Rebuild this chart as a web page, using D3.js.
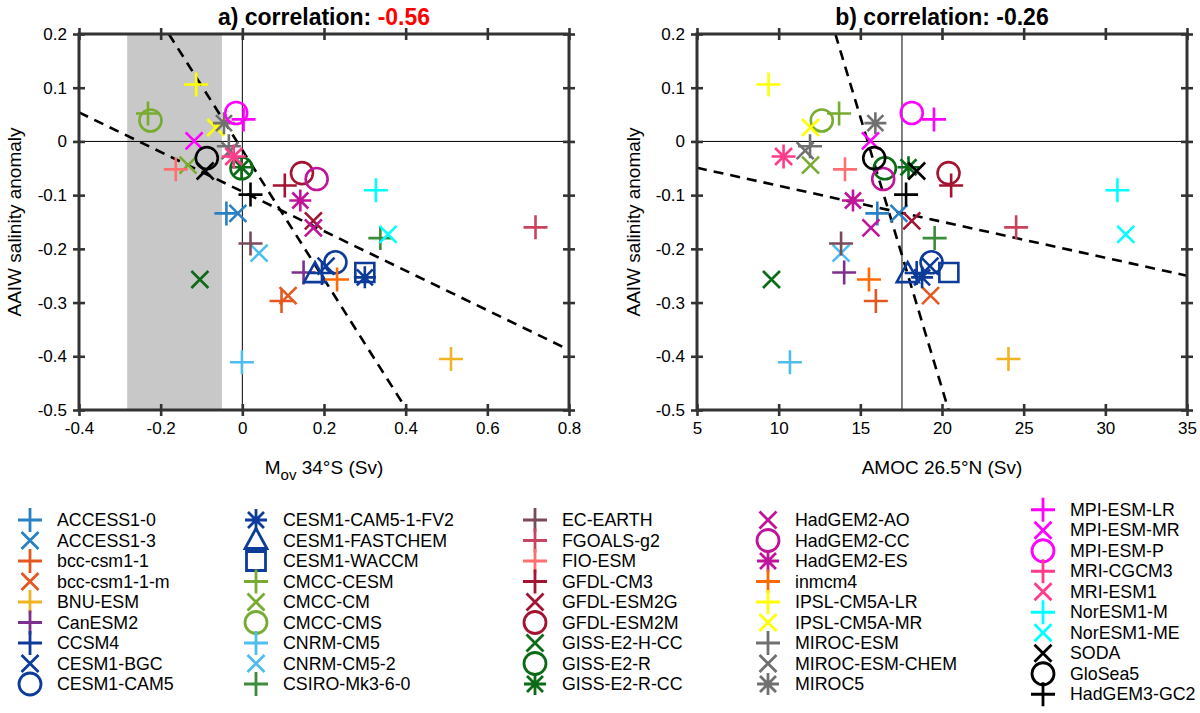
<!DOCTYPE html>
<html>
<head>
<meta charset="utf-8">
<script src="https://cdn.jsdelivr.net/npm/d3@7"></script>
<style>
  body { margin: 0; background: #fff; }
  text { font-family: 'Liberation Sans', Arial, Helvetica, sans-serif; fill: #000; }
</style>
</head>
<body>
<div id="target"></div>
<script>
const width = 1200;
const height = 713;

// model list, legend order
const models = [
  'ACCESS1-0', 'ACCESS1-3', 'bcc-csm1-1', 'bcc-csm1-1-m', 'BNU-ESM', 'CanESM2', 'CCSM4', 'CESM1-BGC', 'CESM1-CAM5',
  'CESM1-CAM5-1-FV2', 'CESM1-FASTCHEM', 'CESM1-WACCM', 'CMCC-CESM', 'CMCC-CM', 'CMCC-CMS', 'CNRM-CM5', 'CNRM-CM5-2', 'CSIRO-Mk3-6-0',
  'EC-EARTH', 'FGOALS-g2', 'FIO-ESM', 'GFDL-CM3', 'GFDL-ESM2G', 'GFDL-ESM2M', 'GISS-E2-H-CC', 'GISS-E2-R', 'GISS-E2-R-CC',
  'HadGEM2-AO', 'HadGEM2-CC', 'HadGEM2-ES', 'inmcm4', 'IPSL-CM5A-LR', 'IPSL-CM5A-MR', 'MIROC-ESM', 'MIROC-ESM-CHEM', 'MIROC5',
  'MPI-ESM-LR', 'MPI-ESM-MR', 'MPI-ESM-P', 'MRI-CGCM3', 'MRI-ESM1', 'NorESM1-M', 'NorESM1-ME', 'SODA', 'GloSea5', 'HadGEM3-GC2',
];

const markers = [
  '+', 'x', '+', 'x', '+', '+', '+', 'x', 'o',
  '*', '^', 's', '+', 'x', 'o', '+', 'x', '+',
  '+', '+', '+', '+', 'x', 'o', 'x', 'o', '*',
  'x', 'o', '*', '+', '+', 'x', '+', 'x', '*',
  '+', 'x', 'o', '+', 'x', '+', 'x', 'x', 'o', '+',
];

const colors = [
  '#2a80c4', '#2a80c4', '#e4581f', '#e4581f', '#f0b323', '#7e2f8e', '#0d3b99', '#0d3b99', '#0d3b99',
  '#0d3b99', '#0d3b99', '#0d3b99', '#77ac30', '#77ac30', '#77ac30', '#4dbeee', '#4dbeee', '#3b8c3b',
  '#7b4a5a', '#c8435e', '#ff6f6f', '#a2142f', '#a2142f', '#a2142f', '#0b6b16', '#0b6b16', '#0b6b16',
  '#c0149b', '#c0149b', '#c0149b', '#ff6a00', '#ffff00', '#ffff00', '#707070', '#707070', '#707070',
  '#ff00ff', '#ff00ff', '#ff00ff', '#ff3c8c', '#ff3c8c', '#00ffff', '#00ffff', '#000000', '#000000', '#000000',
];

// Mov at 34S (Sv)
const movValues = [
  -0.039, -0.011, 0.096, 0.112, 0.511, 0.150, 0.195, 0.205, 0.228,
  0.300, 0.178, 0.300, -0.231, -0.133, -0.225, -0.001, 0.041, 0.338,
  0.020, 0.718, -0.163, 0.104, 0.174, 0.146, -0.104, -0.002, -0.002,
  0.174, 0.182, 0.142, 0.232, -0.113, -0.065, -0.033, -0.030, -0.045,
  0.003, -0.118, -0.015, -0.021, -0.021, 0.327, 0.357, -0.091, -0.087, 0.020,
];

// AMOC at 26.5N (Sv)
const amocValues = [
  16.04, 17.36, 15.95, 19.3, 24.07, 14.01, 18.45, 19.26, 19.36,
  18.78, 17.9, 20.42, 13.7, 11.95, 12.64, 10.69, 13.82, 19.55,
  13.82, 24.54, 14.06, 20.56, 18.15, 20.4, 9.56, 16.5, 17.95,
  15.65, 16.4, 14.55, 15.53, 9.38, 11.95, 11.92, 11.62, 15.92,
  19.51, 15.62, 18.15, 10.3, 10.3, 30.74, 31.25, 18.45, 15.85, 17.8,
];

// AAIW salinity anomaly
const salinity = [
  -0.134, -0.134, -0.297, -0.287, -0.405, -0.244, -0.245, -0.232, -0.225,
  -0.253, -0.247, -0.244, 0.052, -0.044, 0.039, -0.411, -0.208, -0.180,
  -0.190, -0.160, -0.052, -0.082, -0.148, -0.059, -0.257, -0.050, -0.048,
  -0.161, -0.070, -0.110, -0.257, 0.106, 0.026, -0.009, -0.017, 0.034,
  0.041, 0.001, 0.053, -0.028, -0.028, -0.091, -0.173, -0.055, -0.031, -0.099,
];

const xTicksA = [-0.4, -0.2, 0, 0.2, 0.4, 0.6, 0.8];
const xTicksB = [5, 10, 15, 20, 25, 30, 35];
const yTicks = [-0.5, -0.4, -0.3, -0.2, -0.1, 0, 0.1, 0.2];

// observed Mov range (shaded) and observed AMOC
const shadeA = [-0.282, -0.05];
const amocObs = 17.55;

// regression lines [x1, y1, x2, y2]
const fitsA = [[-0.4, 0.054, 0.8, -0.388], [-0.18, 0.2, 0.403, -0.5]];
const fitsB = [[5, -0.049, 35, -0.25], [13.47, 0.2, 20.4, -0.5]];

const svg = d3.select('#target').append('svg').attr('width', width).attr('height', height);

function markerPath(type) {
  const s = 12;
  const k = 8.5;
  const r = 11;
  if (type === '+') return `M${-s},0H${s}M0,${-s}V${s}`;
  if (type === 'x') return `M${-k},${-k}L${k},${k}M${-k},${k}L${k},${-k}`;
  if (type === '*') {
    const a = 11;
    const b = 8;
    return `M${-a},0H${a}M0,${-a}V${a}M${-b},${-b}L${b},${b}M${-b},${b}L${b},${-b}`;
  }
  if (type === 'o') return `M${r},0A${r},${r} 0 1,1 ${-r},0A${r},${r} 0 1,1 ${r},0Z`;
  if (type === '^') return 'M0,-12L11,8H-11Z';
  if (type === 's') return 'M-9.5,-9.5H9.5V9.5H-9.5Z';
  return '';
}

function panel(opts) {
  const w = 490;
  const h = 376;
  const g = svg.append('g').attr('transform', `translate(${opts.left},34)`);

  const x = d3.scaleLinear().domain(opts.xDomain).range([0, w]);
  const y = d3.scaleLinear().domain([-0.5, 0.2]).range([h, 0]);

  g.append('clipPath')
    .attr('id', opts.id + '-clip')
    .append('rect')
    .attr('width', w)
    .attr('height', h);

  const inner = g.append('g').attr('clip-path', `url(#${opts.id}-clip)`);

  if (opts.shade) {
    inner
      .append('rect')
      .attr('x', x(opts.shade[0]))
      .attr('y', 0)
      .attr('width', x(opts.shade[1]) - x(opts.shade[0]))
      .attr('height', h)
      .style('fill', '#c8c8c8');
  }

  inner
    .append('line')
    .attr('x1', 0)
    .attr('x2', w)
    .attr('y1', y(0))
    .attr('y2', y(0))
    .style('stroke', '#000')
    .style('stroke-width', 1);
  inner
    .append('line')
    .attr('x1', x(opts.vline))
    .attr('x2', x(opts.vline))
    .attr('y1', 0)
    .attr('y2', h)
    .style('stroke', '#000')
    .style('stroke-width', 1);

  inner
    .selectAll('.fit')
    .data(opts.fits)
    .enter()
    .append('line')
    .attr('class', 'fit')
    .attr('x1', (d) => x(d[0]))
    .attr('y1', (d) => y(d[1]))
    .attr('x2', (d) => x(d[2]))
    .attr('y2', (d) => y(d[3]))
    .style('stroke', '#000')
    .style('stroke-width', 2.6)
    .style('stroke-dasharray', '10,7');

  inner
    .selectAll('.point')
    .data(d3.range(models.length))
    .enter()
    .append('path')
    .attr('class', 'point')
    .attr('transform', (i) => `translate(${x(opts.xValues[i])},${y(salinity[i])})`)
    .attr('d', (i) => markerPath(markers[i]))
    .style('fill', 'none')
    .style('stroke', (i) => colors[i])
    .style('stroke-width', 2.6);

  // axes: ticks cross the frame on all four sides
  const axes = [
    { a: d3.axisBottom(x).tickValues(opts.xTicks), t: `translate(0,${h})`, labels: true, horiz: true },
    { a: d3.axisTop(x).tickValues(opts.xTicks), t: 'translate(0,0)', labels: false, horiz: true },
    { a: d3.axisLeft(y).tickValues(yTicks), t: 'translate(0,0)', labels: true, horiz: false },
    { a: d3.axisRight(y).tickValues(yTicks), t: `translate(${w},0)`, labels: false, horiz: false },
  ];
  axes.forEach((ax) => {
    const ag = g
      .append('g')
      .attr('transform', ax.t)
      .call(
        ax.a
          .tickSize(0)
          .tickPadding(12)
          .tickFormat((d) => String(+d.toFixed(2)))
      );
    ag.select('.domain').remove();
    ag.selectAll('.tick line')
      .attr(ax.horiz ? 'y1' : 'x1', -6)
      .attr(ax.horiz ? 'y2' : 'x2', 6)
      .style('stroke', '#333')
      .style('stroke-width', 2.6);
    if (!ax.labels) {
      ag.selectAll('.tick text').remove();
    } else {
      ag.selectAll('.tick text').style('font-size', '17px').style('font-family', null);
    }
  });

  g.append('rect')
    .attr('width', w)
    .attr('height', h)
    .style('fill', 'none')
    .style('stroke', '#333')
    .style('stroke-width', 3);

  // title
  const title = g
    .append('text')
    .attr('x', w / 2)
    .attr('y', -9)
    .attr('text-anchor', 'middle')
    .style('font-size', '23px')
    .style('font-weight', 'bold');
  title.append('tspan').text(opts.title);
  title.append('tspan').text(opts.corr).style('fill', opts.corrColor);

  g.append('text')
    .attr('transform', `translate(${opts.ylabelX},${h / 2}) rotate(-90)`)
    .attr('text-anchor', 'middle')
    .style('font-size', '19px')
    .text('AAIW salinity anomaly');

  const xl = g
    .append('text')
    .attr('x', w / 2)
    .attr('y', 440)
    .attr('text-anchor', 'middle')
    .style('font-size', '19px');
  opts.xlabel(xl);
}

panel({
  id: 'pa',
  left: 79,
  xDomain: [-0.4, 0.8],
  xTicks: xTicksA,
  xValues: movValues,
  shade: shadeA,
  vline: 0,
  fits: fitsA,
  title: 'a) correlation: ',
  corr: '-0.56',
  corrColor: '#ff0000',
  ylabelX: -58,
  xlabel: (t) => {
    t.append('tspan').text('M');
    t.append('tspan').text('ov').attr('dy', 6).style('font-size', '15px');
    t.append('tspan').text(' 34°S (Sv)').attr('dy', -6);
  },
});

panel({
  id: 'pb',
  left: 697,
  xDomain: [5, 35],
  xTicks: xTicksB,
  xValues: amocValues,
  shade: null,
  vline: amocObs,
  fits: fitsB,
  title: 'b) correlation: ',
  corr: '-0.26',
  corrColor: '#000000',
  ylabelX: -57,
  xlabel: (t) => {
    t.text('AMOC 26.5°N (Sv)');
  },
});

// legend, five columns
const legendCols = [0, 9, 18, 27, 36, 46];
const legendX = [30, 256, 535, 768, 1043];
const rowStep = 20.5;

for (let c = 0; c < 5; c++) {
  const ids = d3.range(legendCols[c], legendCols[c + 1]);
  const y0 = 602 - ((ids.length - 1) * rowStep) / 2;
  const lg = svg.append('g').attr('transform', `translate(${legendX[c]},${y0})`);

  lg.selectAll('path')
    .data(ids)
    .enter()
    .append('path')
    .attr('transform', (i, j) => `translate(0,${j * rowStep})`)
    .attr('d', (i) => markerPath(markers[i]))
    .style('fill', 'none')
    .style('stroke', (i) => colors[i])
    .style('stroke-width', 2.8);

  lg.selectAll('text')
    .data(ids)
    .enter()
    .append('text')
    .attr('x', 27)
    .attr('y', (i, j) => j * rowStep + 6)
    .style('font-size', '17.8px')
    .text((i) => models[i]);
}
</script>
</body>
</html>
